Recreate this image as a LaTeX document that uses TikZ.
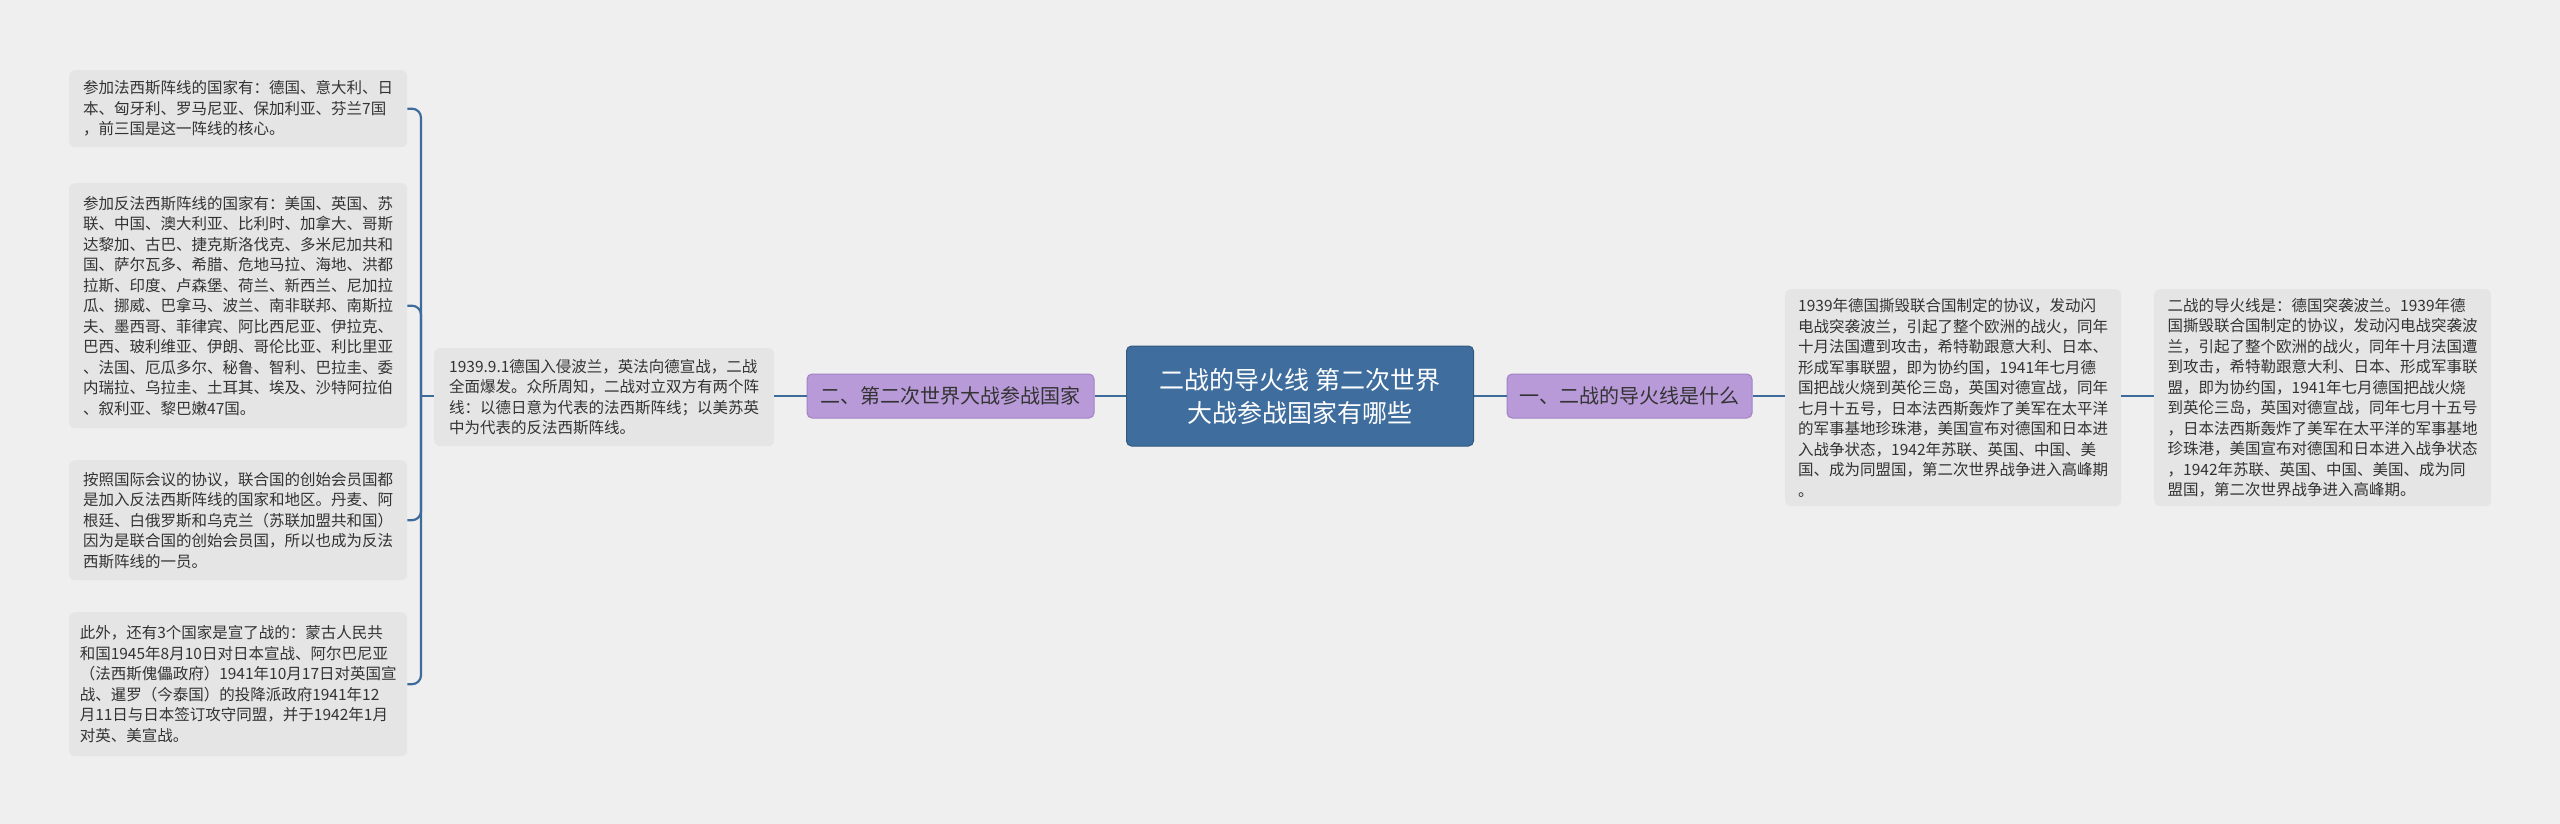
\documentclass[tikz,border=0pt]{standalone}
\usepackage{fontspec}
\setmainfont{Noto Sans CJK SC}
\definecolor{bg}{HTML}{EFEFEF}
\definecolor{boxg}{HTML}{E5E5E5}
\definecolor{cblue}{HTML}{3F6E9E}
\definecolor{lblue}{HTML}{3D6C9B}
\definecolor{purp}{HTML}{B89AD8}
\definecolor{purpd}{HTML}{A283C6}
\definecolor{txt}{HTML}{333333}
\begin{document}
\begin{tikzpicture}[x=1pt,y=-1pt,
  leaf/.style={fill=boxg,rounded corners=6pt,inner xsep=9pt,inner ysep=8pt,align=left,text=txt,font=\fontsize{15.5}{20.5}\selectfont,anchor=north west},
  topic/.style={fill=purp,draw=purpd,line width=1pt,rounded corners=5pt,text=txt,font=\fontsize{20}{24}\selectfont,minimum height=44pt,inner xsep=10pt},
  link/.style={draw=lblue,line width=2.2pt}]
\fill[bg] (0,0) rectangle (2560,824);
\useasboundingbox (0,0) rectangle (2560,824);
\node[fill=cblue,draw=cblue!80!black,line width=1pt,rounded corners=5pt,text=white,align=center,
  font=\fontsize{25}{33}\selectfont,minimum width=347pt,minimum height=100pt] (c) at (1300,396)
  {二战的导火线 第二次世界\\大战参战国家有哪些};
\node[topic,minimum width=245pt] (r) at (1629.5,396) {一、二战的导火线是什么};
\node[topic,minimum width=287pt] (l) at (950.5,396) {二、第二次世界大战参战国家};
\node[leaf,minimum width=336pt,minimum height=217pt] (r1) at (1785,289) {1939年德国撕毁联合国制定的协议，发动闪\\电战突袭波兰，引起了整个欧洲的战火，同年\\十月法国遭到攻击，希特勒跟意大利、日本、\\形成军事联盟，即为协约国，1941年七月德\\国把战火烧到英伦三岛，英国对德宣战，同年\\七月十五号，日本法西斯轰炸了美军在太平洋\\的军事基地珍珠港，美国宣布对德国和日本进\\入战争状态，1942年苏联、英国、中国、美\\国、成为同盟国，第二次世界战争进入高峰期\\。};
\node[leaf,minimum width=337pt,minimum height=217pt] (r2) at (2154,289) {二战的导火线是：德国突袭波兰。1939年德\\国撕毁联合国制定的协议，发动闪电战突袭波\\兰，引起了整个欧洲的战火，同年十月法国遭\\到攻击，希特勒跟意大利、日本、形成军事联\\盟，即为协约国，1941年七月德国把战火烧\\到英伦三岛，英国对德宣战，同年七月十五号\\，日本法西斯轰炸了美军在太平洋的军事基地\\珍珠港，美国宣布对德国和日本进入战争状态\\，1942年苏联、英国、中国、美国、成为同\\盟国，第二次世界战争进入高峰期。};
\node[leaf,minimum width=340pt,minimum height=98pt] (m) at (434,348) {1939.9.1德国入侵波兰，英法向德宣战，二战\\全面爆发。众所周知，二战对立双方有两个阵\\线：以德日意为代表的法西斯阵线；以美苏英\\中为代表的反法西斯阵线。};
\node[leaf,minimum width=338pt,minimum height=77pt] (a1) at (69,70) {参加法西斯阵线的国家有：德国、意大利、日\\本、匈牙利、罗马尼亚、保加利亚、芬兰7国\\，前三国是这一阵线的核心。};
\node[leaf,minimum width=338pt,minimum height=245pt] (a2) at (69,183) {参加反法西斯阵线的国家有：美国、英国、苏\\联、中国、澳大利亚、比利时、加拿大、哥斯\\达黎加、古巴、捷克斯洛伐克、多米尼加共和\\国、萨尔瓦多、希腊、危地马拉、海地、洪都\\拉斯、印度、卢森堡、荷兰、新西兰、尼加拉\\瓜、挪威、巴拿马、波兰、南非联邦、南斯拉\\夫、墨西哥、菲律宾、阿比西尼亚、伊拉克、\\巴西、玻利维亚、伊朗、哥伦比亚、利比里亚\\、法国、厄瓜多尔、秘鲁、智利、巴拉圭、委\\内瑞拉、乌拉圭、土耳其、埃及、沙特阿拉伯\\、叙利亚、黎巴嫩47国。};
\node[leaf,minimum width=338pt,minimum height=120pt] (a3) at (69,460) {按照国际会议的协议，联合国的创始会员国都\\是加入反法西斯阵线的国家和地区。丹麦、阿\\根廷、白俄罗斯和乌克兰（苏联加盟共和国）\\因为是联合国的创始会员国，所以也成为反法\\西斯阵线的一员。};
\node[leaf,minimum width=338pt,minimum height=144pt] (a4) at (69,612) {此外，还有3个国家是宣了战的：蒙古人民共\\和国1945年8月10日对日本宣战、阿尔巴尼亚\\（法西斯傀儡政府）1941年10月17日对英国宣\\战、暹罗（今泰国）的投降派政府1941年12\\月11日与日本签订攻守同盟，并于1942年1月\\对英、美宣战。};
\draw[link] (c.east) -- (r.west);
\draw[link] (r.east) -- (r1.west |- r.east);
\draw[link] (r1.east |- r.east) -- (r2.west |- r.east);
\draw[link] (c.west) -- (l.east);
\draw[link] (l.west) -- (m.east |- l.west);
\coordinate (j) at (421,396);
\draw[link] (m.west |- l.west) -- (j);
\foreach \b in {a1,a2,a3,a4}
  \draw[link,rounded corners=9pt] (j) |- (\b.east);
\end{tikzpicture}
\end{document}
